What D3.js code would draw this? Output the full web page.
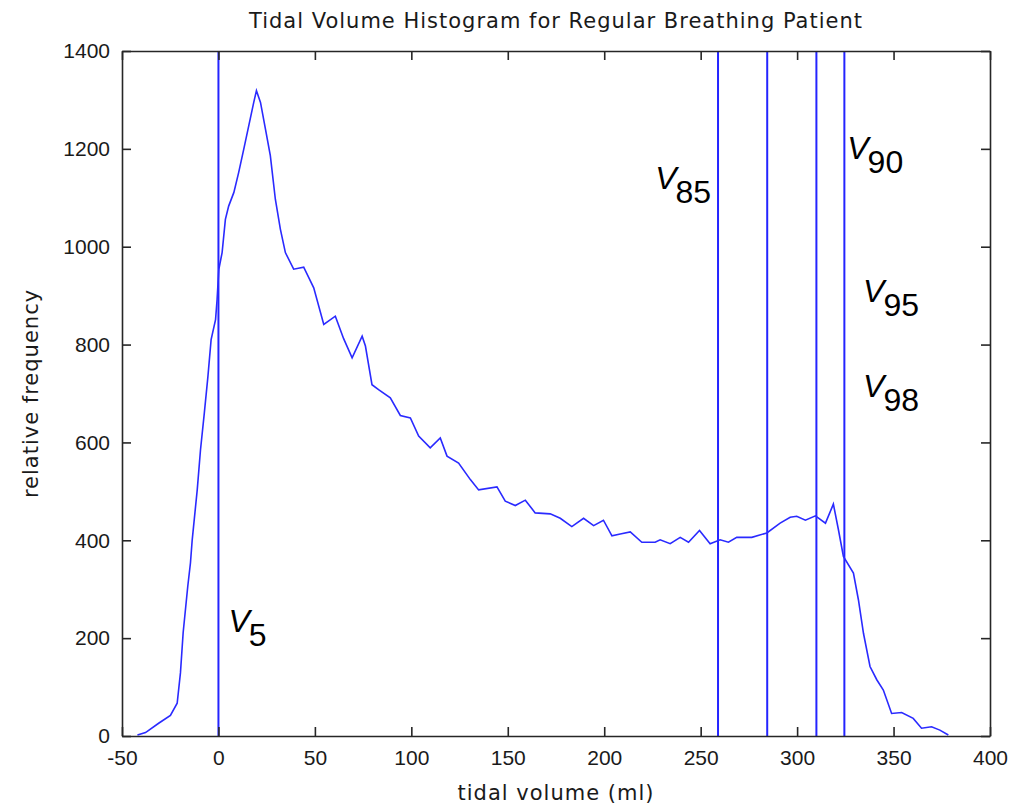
<!DOCTYPE html>
<html>
<head>
<meta charset="utf-8">
<script src="https://cdn.jsdelivr.net/npm/d3@7"></script>
<style>
  body { margin: 0; background: #fff; }
  svg text { font-family: "Liberation Sans", Arial, sans-serif; }
</style>
</head>
<body>
<svg id="chart"></svg>
<script>
// tidal volume (ml) and relative frequency
var volume = [-42, -37.8, -31, -24.9, -21.4, -19.7, -18.3, -15.9, -14.5, -13.6, -11, -9.3, -7.3, -5.5, -3.8, -1.5, -0.7,
    0.2, 1.9, 3.6, 5.3, 8, 10.5, 13.1, 15.7, 18.3, 19.7, 21.8, 24.4, 26.9, 29.5, 32.1, 34.7, 39, 44.2, 49.4,
    54.6, 60.6, 64.9, 69.3, 74.5, 76.2, 79.6, 83, 89.1, 94.3, 99.5, 103.8, 109.8, 115, 118.5, 124.5, 130.6,
    134.9, 144.4, 148.7, 153.9, 159.1, 164.2, 172, 177.2, 183.2, 189.3, 194.5, 199.6, 204, 208.3, 213.5,
    219.5, 226.4, 229, 234.2, 239.4, 243.7, 249.4, 254.9, 260.1, 264.4, 268.7, 276.5, 284.3, 291.2, 296.4,
    299.8, 304.3, 309.5, 314.7, 318.8, 321.4, 324, 329.2, 331.8, 334.4, 337.8, 341.3, 344.7, 349, 354.2,
    360.2, 364.5, 369.7, 374, 378.4];
var frequency = [2, 7, 26, 42, 67, 129, 211, 306, 354, 401, 503, 585, 661, 733, 810, 851, 892,
    954, 988, 1056, 1083, 1111, 1152, 1199, 1247, 1295, 1319, 1295, 1240, 1186, 1097, 1036, 988, 954, 958, 916,
    841, 858, 812, 773, 817, 797, 718, 708, 691, 655, 650, 613, 589, 609, 572, 558, 524,
    503, 509, 480, 471, 482, 456, 454, 445, 428, 445, 430, 441, 409, 413, 417,
    396, 396, 401, 393, 406, 396, 420, 393, 401, 396, 406, 406, 415, 435, 447,
    449, 441, 450, 435, 474, 422, 367, 333, 278, 210, 142, 115, 94, 46, 48,
    36, 16, 19, 12, 2];

// percentile lines
var percentileVolumes = [0, 259, 284.5, 310, 324.5];

// percentile labels: subscript and anchor in data units
var labelSubs = ["5", "85", "90", "95", "98"];
var labelX = [5.2, 226.4, 326, 334.2, 334.2];
var labelY = [213, 1117, 1179, 886, 692];

var xTicks = [-50, 0, 50, 100, 150, 200, 250, 300, 350, 400];
var yTicks = [0, 200, 400, 600, 800, 1000, 1200, 1400];

var width = 1023, height = 809;
var margin = {left: 122, right: 33, top: 51, bottom: 73};
var innerW = width - margin.left - margin.right;
var innerH = height - margin.top - margin.bottom;

var svg = d3.select("#chart")
    .attr("width", width)
    .attr("height", height);

var xScale = d3.scaleLinear().domain([-50, 400]).range([0, innerW]);
var yScale = d3.scaleLinear().domain([0, 1400]).range([innerH, 0]);

var g = svg.append("g")
    .attr("transform", "translate(" + margin.left + "," + margin.top + ")");

var axisColor = "#262626";
var tickLen = 9;
var labelFont = "'DejaVu Sans', Verdana, sans-serif";

// percentile vertical lines
g.selectAll(".pline")
    .data(percentileVolumes)
    .enter()
    .append("line")
    .attr("class", "pline")
    .attr("x1", function(d){ return xScale(d); })
    .attr("x2", function(d){ return xScale(d); })
    .attr("y1", 0)
    .attr("y2", innerH)
    .attr("stroke", "#2424ff")
    .attr("stroke-width", 2);

// histogram curve
var pts = volume.map(function(v, i){ return [v, frequency[i]]; });
var line = d3.line()
    .x(function(d){ return xScale(d[0]); })
    .y(function(d){ return yScale(d[1]); });

g.append("path")
    .datum(pts)
    .attr("d", line)
    .attr("fill", "none")
    .attr("stroke", "#2a2aff")
    .attr("stroke-width", 1.6);

// axes: bottom/left with labels, top/right ticks only, all ticks inward
var plain = function(d){ return String(d); };
var xAxis = d3.axisBottom(xScale).tickValues(xTicks).tickFormat(plain).tickSizeInner(-tickLen).tickSizeOuter(0).tickPadding(14);
var yAxis = d3.axisLeft(yScale).tickValues(yTicks).tickFormat(plain).tickSizeInner(-tickLen).tickSizeOuter(0).tickPadding(12);
var xAxisTop = d3.axisTop(xScale).tickValues(xTicks).tickSizeInner(-tickLen).tickSizeOuter(0).tickFormat("");
var yAxisRight = d3.axisRight(yScale).tickValues(yTicks).tickSizeInner(-tickLen).tickSizeOuter(0).tickFormat("");

function styleAxis(sel) {
    sel.selectAll("path").attr("stroke", axisColor).attr("stroke-width", 1.6);
    sel.selectAll("line").attr("stroke", axisColor).attr("stroke-width", 1.6);
    sel.selectAll("text")
        .attr("fill", "#1a1a1a")
        .style("font-size", "21px")
        .style("font-family", "'Liberation Sans', Arial, sans-serif");
}

g.append("g").attr("transform", "translate(0," + innerH + ")").call(xAxis).call(styleAxis);
g.append("g").call(yAxis).call(styleAxis);
g.append("g").call(xAxisTop).call(styleAxis);
g.append("g").attr("transform", "translate(" + innerW + ",0)").call(yAxisRight).call(styleAxis);

// title and axis labels
svg.append("text")
    .attr("x", margin.left + innerW / 2)
    .attr("y", 28)
    .attr("text-anchor", "middle")
    .attr("fill", "#1a1a1a")
    .style("font-size", "21px")
    .style("font-family", labelFont)
    .style("letter-spacing", "1px")
    .text("Tidal Volume Histogram for Regular Breathing Patient");

svg.append("text")
    .attr("x", margin.left + innerW / 2)
    .attr("y", 800)
    .attr("text-anchor", "middle")
    .attr("fill", "#1a1a1a")
    .style("font-size", "21px")
    .style("font-family", labelFont)
    .style("letter-spacing", "1px")
    .text("tidal volume (ml)");

svg.append("text")
    .attr("transform", "translate(38," + (margin.top + innerH / 2) + ") rotate(-90)")
    .attr("text-anchor", "middle")
    .attr("fill", "#1a1a1a")
    .style("font-size", "21px")
    .style("font-family", labelFont)
    .style("letter-spacing", "1px")
    .text("relative frequency");

// percentile labels V with subscripts
var labels = g.selectAll(".vlabel")
    .data(labelSubs)
    .enter()
    .append("text")
    .attr("class", "vlabel")
    .attr("x", function(d, i){ return xScale(labelX[i]); })
    .attr("y", function(d, i){ return yScale(labelY[i]); })
    .attr("fill", "#000")
    .style("font-size", "32px")
    .style("font-family", "'Liberation Sans', Arial, sans-serif");

labels.append("tspan")
    .style("font-style", "italic")
    .text("V");
labels.append("tspan")
    .attr("dy", 14)
    .attr("dx", -1)
    .text(function(d){ return d; });
</script>
</body>
</html>
